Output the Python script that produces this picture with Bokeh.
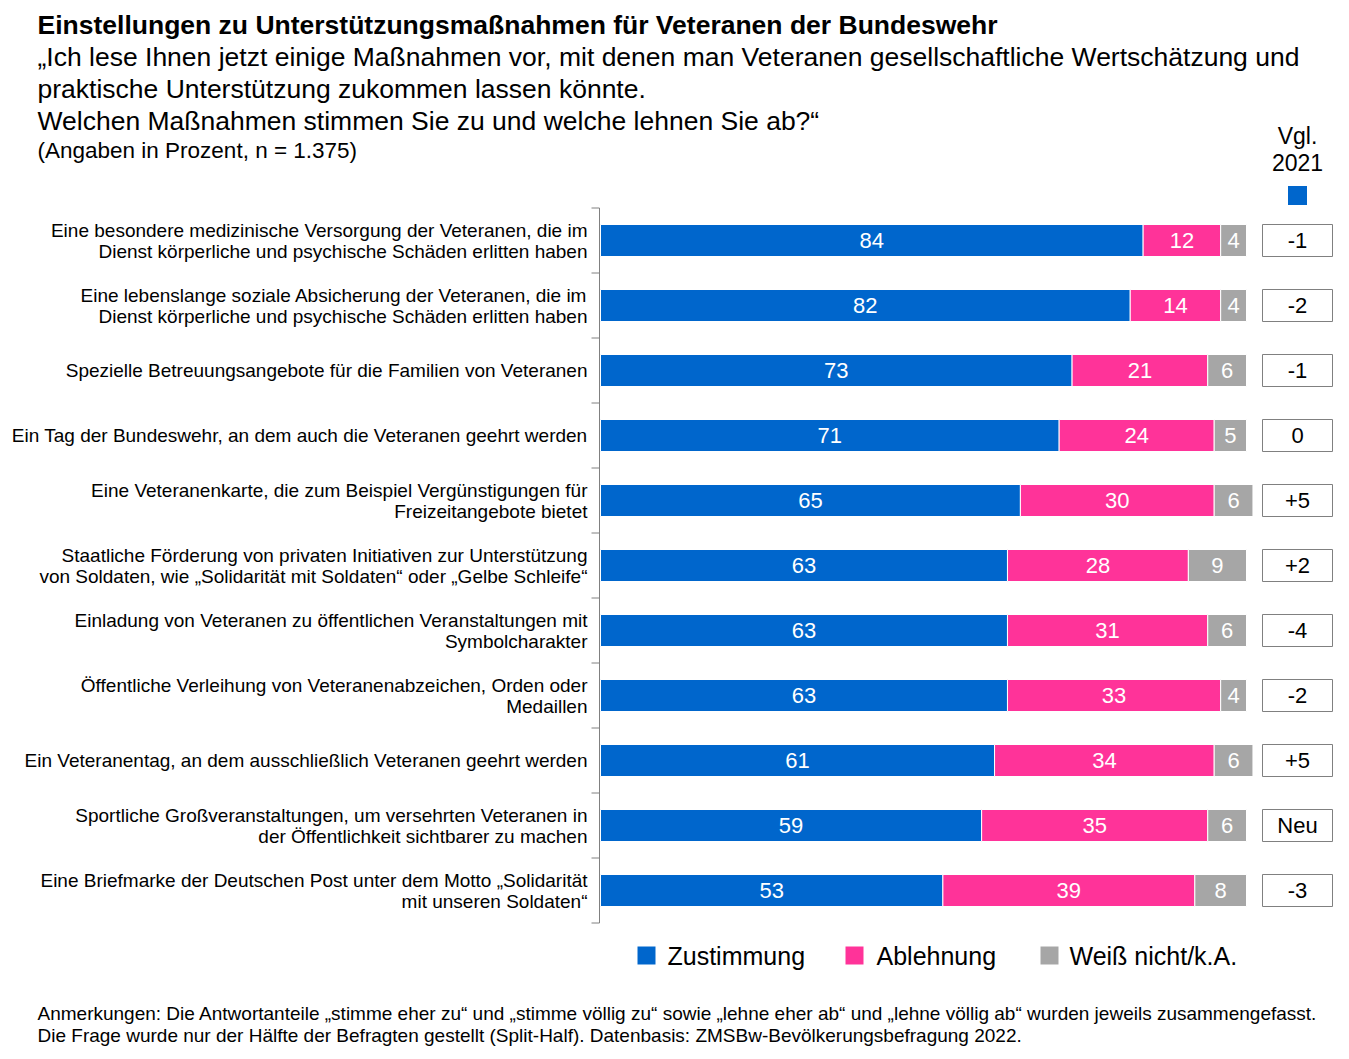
from bokeh.plotting import figure
from bokeh.models import Range1d, ColumnDataSource
from bokeh.core.properties import value
from bokeh.embed import file_html
from bokeh.resources import INLINE

# ---------------- data ----------------
categories = [
    "Eine besondere medizinische Versorgung der Veteranen, die im\nDienst körperliche und psychische Schäden erlitten haben",
    "Eine lebenslange soziale Absicherung der Veteranen, die im\nDienst körperliche und psychische Schäden erlitten haben",
    "Spezielle Betreuungsangebote für die Familien von Veteranen",
    "Ein Tag der Bundeswehr, an dem auch die Veteranen geehrt werden",
    "Eine Veteranenkarte, die zum Beispiel Vergünstigungen für\nFreizeitangebote bietet",
    "Staatliche Förderung von privaten Initiativen zur Unterstützung\nvon Soldaten, wie „Solidarität mit Soldaten“ oder „Gelbe Schleife“",
    "Einladung von Veteranen zu öffentlichen Veranstaltungen mit\nSymbolcharakter",
    "Öffentliche Verleihung von Veteranenabzeichen, Orden oder\nMedaillen",
    "Ein Veteranentag, an dem ausschließlich Veteranen geehrt werden",
    "Sportliche Großveranstaltungen, um versehrten Veteranen in\nder Öffentlichkeit sichtbarer zu machen",
    "Eine Briefmarke der Deutschen Post unter dem Motto „Solidarität\nmit unseren Soldaten“",
]
zustimmung = [84, 82, 73, 71, 65, 63, 63, 63, 61, 59, 53]
ablehnung = [12, 14, 21, 24, 30, 28, 31, 33, 34, 35, 39]
weiss_nicht = [4, 4, 6, 5, 6, 9, 6, 4, 6, 6, 8]
vgl_2021 = ["-1", "-2", "-1", "0", "+5", "+2", "-4", "-2", "+5", "Neu", "-3"]
series_names = ["Zustimmung", "Ablehnung", "Weiß nicht/k.A."]
series_colors = ["#0066CC", "#FF3399", "#A6A6A6"]

title = "Einstellungen zu Unterstützungsmaßnahmen für Veteranen der Bundeswehr"
subtitle = [
    "„Ich lese Ihnen jetzt einige Maßnahmen vor, mit denen man Veteranen gesellschaftliche Wertschätzung und",
    "praktische Unterstützung zukommen lassen könnte.",
    "Welchen Maßnahmen stimmen Sie zu und welche lehnen Sie ab?“",
]
note = "(Angaben in Prozent, n = 1.375)"
footnote = [
    "Anmerkungen: Die Antwortanteile „stimme eher zu“ und „stimme völlig zu“ sowie „lehne eher ab“ und „lehne völlig ab“ wurden jeweils zusammengefasst.",
    "Die Frage wurde nur der Hälfte der Befragten gestellt (Split-Half). Datenbasis: ZMSBw-Bevölkerungsbefragung 2022.",
]

# ---------------- layout helpers ----------------
FONT = value("Liberation Sans")
W, H = 1333, 1050
CANVAS_LEFT, CANVAS_TOP = 1, 1
PX_PER_PCT = 6.46
X0_PAGE = 601
ROW_PX = 65
ROW0_PAGE = 241


def xd(px):
    return (px - X0_PAGE) / PX_PER_PCT


def yd(py):
    return (py - ROW0_PAGE) / ROW_PX


p = figure(width=W, height=H,
           x_range=Range1d(xd(CANVAS_LEFT), xd(CANVAS_LEFT + W)),
           y_range=Range1d(yd(CANVAS_TOP + H), yd(CANVAS_TOP)),
           x_axis_type=None, y_axis_type=None,
           toolbar_location=None, output_backend="svg", min_border=0)
p.outline_line_color = None
p.background_fill_color = "white"

n = len(categories)
ys = list(range(n))

# stacked bars
lefts = [0] * n
for vals, col in zip([zustimmung, ablehnung, weiss_nicht], series_colors):
    rights = [l + v for l, v in zip(lefts, vals)]
    src = ColumnDataSource(dict(y=ys, left=lefts, right=rights,
                                mid=[(l + r) / 2 for l, r in zip(lefts, rights)],
                                lab=[str(v) for v in vals]))
    p.hbar(y="y", left="left", right="right", height=32 / ROW_PX, source=src,
           fill_color=col, line_color="white", line_width=1)
    p.text(x="mid", y="y", text="lab", source=src, text_align="center",
           text_baseline="middle", text_color="white", text_font=FONT,
           text_font_size="22px")
    lefts = rights

# category axis line and ticks
p.segment(x0=[xd(600)], x1=[xd(600)], y0=[-0.5], y1=[n - 0.5],
          line_color="#808080", line_width=1)
tick_y = [i - 0.5 for i in range(n + 1)]
p.segment(x0=[xd(592)] * len(tick_y), x1=[xd(600)] * len(tick_y),
          y0=tick_y, y1=tick_y, line_color="#808080", line_width=1)

# category labels
p.text(x=[xd(588)] * n, y=ys, text=categories, text_align="right",
       text_baseline="middle", text_color="black", text_font=FONT,
       text_font_size="19px", text_line_height=1.0)

# comparison column
cx = xd(1298)
p.rect(x=[cx] * n, y=ys, width=70, height=32, width_units="screen",
       height_units="screen", fill_color="white", line_color="#808080",
       line_width=1)
p.text(x=[cx] * n, y=ys, text=vgl_2021, text_align="center",
       text_baseline="middle", text_color="black", text_font=FONT,
       text_font_size="22px")
p.text(x=[cx, cx], y=[yd(136), yd(163)], text=["Vgl.", "2021"],
       text_align="center", text_baseline="middle", text_color="black",
       text_font=FONT, text_font_size="23px")
p.rect(x=[cx], y=[yd(196)], width=19, height=19, width_units="screen",
       height_units="screen", fill_color=series_colors[0], line_color=None)

# legend
leg_sq_x = [647, 855, 1050]
leg_tx_x = [668, 877, 1070]
p.rect(x=[xd(v) for v in leg_sq_x], y=[yd(956)] * 3, width=18, height=18,
       width_units="screen", height_units="screen", fill_color=series_colors,
       line_color=None)
p.text(x=[xd(v) for v in leg_tx_x], y=[yd(956)] * 3, text=series_names,
       text_align="left", text_baseline="middle", text_color="black",
       text_font=FONT, text_font_size="25px")

# titles
tx = xd(38)
p.text(x=[tx], y=[yd(25)], text=[title], text_align="left",
       text_baseline="middle", text_color="black", text_font=FONT,
       text_font_size="26.5px", text_font_style="bold")
p.text(x=[tx] * 3, y=[yd(57), yd(89), yd(121)], text=subtitle,
       text_align="left", text_baseline="middle", text_color="black",
       text_font=FONT, text_font_size="26.5px")
p.text(x=[tx], y=[yd(151)], text=[note], text_align="left",
       text_baseline="middle", text_color="black", text_font=FONT,
       text_font_size="22.5px")
p.text(x=[tx] * 2, y=[yd(1014), yd(1036)], text=footnote,
       text_align="left", text_baseline="middle", text_color="black",
       text_font=FONT, text_font_size="19px")

open("out.html", "w").write(file_html(p, INLINE))
